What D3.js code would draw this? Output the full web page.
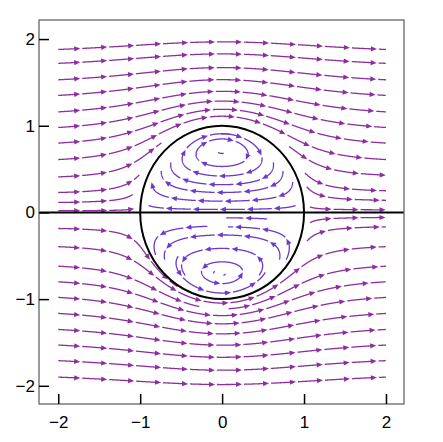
<!DOCTYPE html>
<html><head><meta charset="utf-8">
<script src="https://cdn.jsdelivr.net/npm/d3@7"></script>
<style>
body{margin:0;background:#fff}
svg{display:block}
text{font-family:"Liberation Sans",Arial,sans-serif}
</style>
</head><body>
<svg width="443" height="442"></svg>
<script>
// outer streamlines that start at x = -2: seed y, forward length (99 = up to the edge)
const leftY   = [1.88, 1.72, 1.53, 1.35, 1.16, 0.98, 0.80, 0.61, 0.41, 0.23, 0.115, 0.02,
                 -0.185, -0.395, -0.62, -0.80, -0.98, -1.165, -1.35, -1.53, -1.71, -1.90];
const leftLen = [99, 99, 99, 99, 99, 99, 99, 99, 1.35, 1.03, 0.92, 0.95,
                 1.7, 99, 1.8, 99, 99, 99, 99, 99, 99, 99];
// outer streamlines that end at x = 2: seed y, backward length
const rightY   = [0.43, 0.25, 0.14, 0.03, -0.058, -0.166, -0.62];
const rightLen = [1.25, 1.03, 1.0, 0.93, 0.93, 1.0, 2.0];
// streamlines inside the vortex: seed point, backward and forward length
const innerX    = [0, 0, 0, 0, 0, 0, 0,        0.55, 0.07, -0.18, 0, 0, 0, -0.1, 0.03, 0];
const innerY    = [0.68, 0.53, 0.42, 0.32, 0.23, 0.13, 0.035, -0.075, -0.166, -0.16, -0.26, -0.415, -0.57, -0.69, -0.72, -0.93];
const innerBack = [0.02, 0, 1.2, 0.75, 0.85, 0.95, 0.9,   0, 1.0, 0, 0.85, 0.7, 0, 0.015, 0.015, 0.8];
const innerFwd  = [0.05, 99, 1.3, 0.75, 0.85, 0.95, 0.9,  0.5, 0, 0.85, 0.85, 0.7, 99, 0.015, 0.015, 0.6];

const xTicks = [-2, -1, 0, 1, 2];
const yTicks = [-2, -1, 0, 1, 2];

const svg = d3.select("svg");
const x = d3.scaleLinear().domain([-2.235, 2.22]).range([39, 404]);
const y = d3.scaleLinear().domain([-2.21, 2.22]).range([404, 20]);

// Hill's spherical vortex, radius 1, unit stream
function vel(px, py) {
  const r2 = px * px + py * py;
  if (r2 < 1) return [1.5 * (px * px + 2 * py * py - 1), -1.5 * px * py];
  const r3 = Math.pow(r2, 1.5), r5 = Math.pow(r2, 2.5);
  return [1 - 1 / r3 + 1.5 * py * py / r5, -1.5 * px * py / r5];
}
function dir(px, py, s) {
  const v = vel(px, py);
  const m = Math.hypot(v[0], v[1]) || 1e-9;
  return [s * v[0] / m, s * v[1] / m];
}
function trace(x0, y0, len, sign) {
  const h = 0.004;
  const pts = [[x0, y0]];
  let cx = x0, cy = y0, l = 0;
  while (l < len) {
    const k1 = dir(cx, cy, sign);
    const k2 = dir(cx + h / 2 * k1[0], cy + h / 2 * k1[1], sign);
    const k3 = dir(cx + h / 2 * k2[0], cy + h / 2 * k2[1], sign);
    const k4 = dir(cx + h * k3[0], cy + h * k3[1], sign);
    cx += h / 6 * (k1[0] + 2 * k2[0] + 2 * k3[0] + k4[0]);
    cy += h / 6 * (k1[1] + 2 * k2[1] + 2 * k3[1] + k4[1]);
    l += h;
    if (Math.abs(cx) > 2.001 || Math.abs(cy) > 2.001) break;
    pts.push([cx, cy]);
    if (l > 0.2 && Math.hypot(cx - x0, cy - y0) < h * 0.8) { pts.push([x0, y0]); break; }
  }
  return pts;
}
function streamline(x0, y0, back, fwd) {
  const b = back > 0 ? trace(x0, y0, back, -1).reverse() : [[x0, y0]];
  const f = fwd > 0 ? trace(x0, y0, fwd, 1).slice(1) : [];
  return b.concat(f).map(p => [x(p[0]), y(p[1])]);
}

const lines = [];
leftY.forEach((v, i) => lines.push({ pts: streamline(-2, v, 0, leftLen[i]), c: "#8b2f9f" }));
rightY.forEach((v, i) => lines.push({ pts: streamline(2, v, rightLen[i], 0), c: "#8b2f9f" }));
innerY.forEach((v, i) => lines.push({ pts: streamline(innerX[i], v, innerBack[i], innerFwd[i]), c: "#6a3acb" }));

// cut every line into arrow segments
const period = 27, first = 22, gap = 2, headL = 6, headW = 2.6;
function cumul(pts) {
  const c = [0];
  for (let i = 1; i < pts.length; i++) c.push(c[i - 1] + Math.hypot(pts[i][0] - pts[i - 1][0], pts[i][1] - pts[i - 1][1]));
  return c;
}
function at(pts, c, s) {
  let i = d3.bisectLeft(c, s);
  if (i <= 0) return pts[0];
  if (i >= pts.length) return pts[pts.length - 1];
  const t = (s - c[i - 1]) / ((c[i] - c[i - 1]) || 1);
  return [pts[i - 1][0] + t * (pts[i][0] - pts[i - 1][0]), pts[i - 1][1] + t * (pts[i][1] - pts[i - 1][1])];
}
function part(pts, c, s0, s1) {
  const out = [at(pts, c, s0)];
  for (let i = 0; i < pts.length; i++) if (c[i] > s0 && c[i] < s1) out.push(pts[i]);
  out.push(at(pts, c, s1));
  return out;
}

const g = svg.append("g");
const line = d3.line();
lines.forEach(d => {
  const c = cumul(d.pts), total = c[c.length - 1];
  let s0 = 0, a = first;
  while (a <= total) {
    g.append("path").attr("d", line(part(d.pts, c, s0, a - headL + 1)))
      .attr("fill", "none").attr("stroke", d.c).attr("stroke-width", 1.3);
    const tip = at(d.pts, c, a), base = at(d.pts, c, a - headL);
    const dx = tip[0] - base[0], dy = tip[1] - base[1], m = Math.hypot(dx, dy) || 1;
    const nx = -dy / m * headW, ny = dx / m * headW;
    g.append("path")
      .attr("d", `M${tip[0]},${tip[1]}L${base[0] + nx},${base[1] + ny}L${base[0] - nx},${base[1] - ny}Z`)
      .attr("fill", d.c);
    s0 = a + gap;
    a += period;
  }
  if (total - s0 > 1) {
    g.append("path").attr("d", line(part(d.pts, c, s0, total)))
      .attr("fill", "none").attr("stroke", d.c).attr("stroke-width", 1.3);
  }
});

// axis line and vortex boundary
svg.append("line").attr("x1", 39).attr("x2", 404).attr("y1", y(0)).attr("y2", y(0))
  .attr("stroke", "#000").attr("stroke-width", 2);
svg.append("ellipse").attr("cx", x(0)).attr("cy", y(0))
  .attr("rx", x(1) - x(0)).attr("ry", y(0) - y(1))
  .attr("fill", "none").attr("stroke", "#000").attr("stroke-width", 2);

// frame and axes
svg.append("rect").attr("x", 39).attr("y", 20).attr("width", 365).attr("height", 384)
  .attr("fill", "none").attr("stroke", "#666").attr("stroke-width", 1.3);

const fmt = d3.format("d");
const ax = svg.append("g").attr("transform", "translate(0,404)")
  .call(d3.axisBottom(x).tickValues(xTicks).tickFormat(fmt).tickSize(-10).tickPadding(12));
const ay = svg.append("g").attr("transform", "translate(39,0)")
  .call(d3.axisLeft(y).tickValues(yTicks).tickFormat(fmt).tickSize(-10).tickPadding(4));
[ax, ay].forEach(a => {
  a.select(".domain").remove();
  a.selectAll("line").attr("stroke", "#000").attr("stroke-width", 1.5);
  a.selectAll("text").attr("font-size", 17).attr("fill", "#000")
    .attr("font-family", "Liberation Sans, Arial, sans-serif");
});
</script>
</body></html>
